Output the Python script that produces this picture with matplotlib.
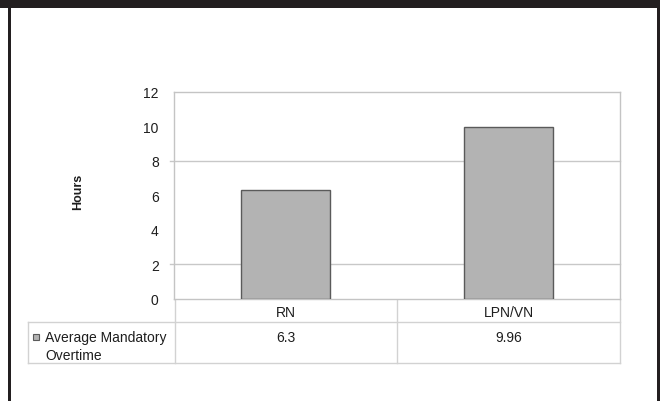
import matplotlib
matplotlib.use("Agg")
import matplotlib.pyplot as plt
from matplotlib import transforms
from matplotlib.patches import Rectangle

plt.rcParams['font.family'] = ['Liberation Sans', 'DejaVu Sans']

categories = ["RN", "LPN/VN"]
overtime = [6.3, 9.96]
series_name = "Average Mandatory\nOvertime"
y_ticks = [0, 2, 4, 6, 8, 10, 12]
grid_levels = [2, 8]

W, H = 660, 402
fig = plt.figure(figsize=(W / 100, H / 100), dpi=100)

# overlay in pixel coordinates for the frame and the data table
ov = fig.add_axes([0, 0, 1, 1])
ov.set_xlim(0, W)
ov.set_ylim(H, 0)
ov.axis("off")

# dark frame: band on top, thin rules left and right
ov.add_patch(Rectangle((0, 0), W, 9, color="#231f20", lw=0))
ov.add_patch(Rectangle((7.5, 0), 3, H, color="#231f20", lw=0))
ov.add_patch(Rectangle((657, 0), 3, H, color="#231f20", lw=0))

# chart area
left, right, top, bottom = 174, 620, 92.5, 300
ax = fig.add_axes([left / W, (H - bottom) / H, (right - left) / W, (bottom - top) / H])
x = range(len(categories))
ax.bar(x, overtime, width=0.4, color="#b3b3b3", edgecolor="#5a5a5a", linewidth=1.0, zorder=3)
ax.set_xlim(-0.5, len(categories) - 0.5)
ax.set_ylim(0, 12)
ax.set_yticks(y_ticks)
ax.set_xticks([])
ax.tick_params(axis="y", length=0, pad=11, labelsize=10, labelcolor="#1e1e1e")
for s in ax.spines.values():
    s.set_color("#c4c4c4")
    s.set_linewidth(1.0)
for lvl in grid_levels:
    ax.axhline(lvl, xmin=-4 / (right - left), xmax=1, color="#c8c8c8", lw=1.0, zorder=1, clip_on=False)

ov.text(78, 192, "Hours", rotation=90, ha="center", va="center", fontsize=9, fontweight="bold", color="#1e1e1e")

# data table under the plot
line_kw = dict(color="#d2d2d2", lw=1.0)
ov.plot([28, right], [323, 323], **line_kw)
ov.plot([28, right], [364, 364], **line_kw)
ov.plot([28, 28], [323, 364], **line_kw)
ov.plot([175, 175], [bottom, 364], **line_kw)
ov.plot([right, right], [bottom, 364], **line_kw)
mid = ax.transData.transform((0.5, 0))[0]
ov.plot([mid * W / fig.bbox.width, mid * W / fig.bbox.width], [bottom, 364], **line_kw)

cat_tr = transforms.blended_transform_factory(ax.transData, ov.transData)
for i, (cat, val) in enumerate(zip(categories, overtime)):
    ov.text(i, 313, cat, transform=cat_tr, ha="center", va="center", fontsize=10, color="#1e1e1e")
    ov.text(i, 338, f"{val:g}", transform=cat_tr, ha="center", va="center", fontsize=10, color="#1e1e1e")

ov.add_patch(Rectangle((33, 335), 6, 6, facecolor="#b3b3b3", edgecolor="#5a5a5a", lw=0.8))
ov.text(45, 338, series_name.split("\n")[0], ha="left", va="center", fontsize=10, color="#1e1e1e")
ov.text(45, 356, series_name.split("\n")[1], ha="left", va="center", fontsize=10, color="#1e1e1e")

fig.savefig("out.png", dpi=100)
